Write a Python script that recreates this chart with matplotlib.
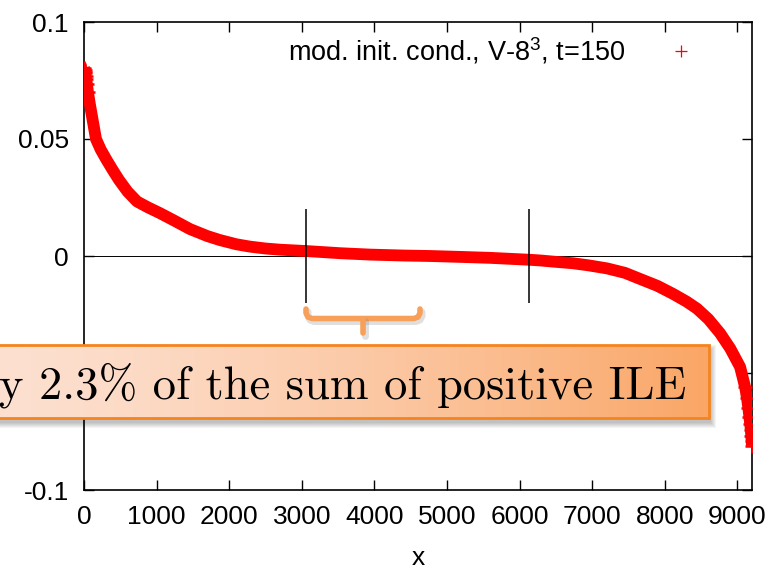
import matplotlib
matplotlib.use("Agg")
import matplotlib.pyplot as plt
import numpy as np
from matplotlib.lines import Line2D
from matplotlib.patches import Rectangle
from matplotlib.ticker import FixedLocator, FuncFormatter

plt.rcParams['font.family'] = ['Liberation Sans', 'DejaVu Sans']
plt.rcParams['mathtext.fontset'] = 'custom'
plt.rcParams['mathtext.rm'] = 'Liberation Sans'
plt.rcParams['mathtext.default'] = 'regular'

# sorted ILE values (index vs value)
idx = [0, 4, 8, 12, 17, 23, 30, 40, 55, 80, 117, 165, 230, 312, 400, 482,
       600, 730, 880, 1047, 1250, 1460, 1700, 1873, 2100, 2287, 2500, 2700,
       3070, 3526, 3940, 4400, 4766, 5200, 5600, 6130, 6281, 6500, 6735,
       6950, 7204, 7450, 7658, 7900, 8113, 8300, 8443, 8600, 8760, 8900,
       9036, 9105, 9130, 9150, 9165, 9176, 9184, 9190, 9195, 9199]
ile = [0.0805, 0.0800, 0.0795, 0.0788, 0.0780, 0.0770, 0.0757, 0.0735,
       0.0700, 0.0650, 0.0585, 0.0500, 0.0455, 0.0410, 0.0365, 0.0325,
       0.0275, 0.0233, 0.0208, 0.0183, 0.0150, 0.0115, 0.0085, 0.0068,
       0.0050, 0.0040, 0.0032, 0.0027, 0.0021, 0.0012, 0.0006, 0.0002,
       0.0000, -0.0004, -0.0008, -0.0016, -0.0019, -0.0025, -0.0031,
       -0.0040, -0.0053, -0.0072, -0.0098, -0.0128, -0.0162, -0.0195,
       -0.0225, -0.0270, -0.0330, -0.0395, -0.0474, -0.0560, -0.0605,
       -0.0650, -0.0690, -0.0720, -0.0745, -0.0770, -0.0790, -0.0810]

# region boundaries marked on the plot
bounds = [3060, 6130]

series_label = "mod. init. cond., V-$8^{3}$, t=150"
note = "y 2.3% of the sum of positive ILE"

xticks = list(range(0, 9001, 1000))
yticks = [-0.1, -0.05, 0, 0.05, 0.1]

W, H = 771, 569
fig = plt.figure(figsize=(W / 100, H / 100), dpi=100)
ax = fig.add_axes([84 / W, 1 - 490 / H, (752 - 84) / W, (490 - 22) / H])

ax.axhline(0, color='black', lw=0.7, zorder=1)
ax.plot(idx, ile, color='red', lw=8.5, solid_capstyle='butt', zorder=3)
# the extreme values are sparse, so the single '+' marks show at both ends
ends = slice(None, 9), slice(-9, None)
for sl in ends:
    ax.plot(idx[sl], ile[sl], ls='none', marker='+', ms=9.5, mew=1.8,
            color='red', zorder=3)
ax.vlines(bounds, -0.02, 0.02, color='black', lw=1.1, zorder=4)

ax.set_xlim(0, 9200)
ax.set_ylim(-0.1, 0.1)
ax.xaxis.set_major_locator(FixedLocator(xticks))
ax.yaxis.set_major_locator(FixedLocator(yticks))
ax.yaxis.set_major_formatter(FuncFormatter(lambda v, p: '%g' % v))
ax.tick_params(direction='in', length=7, width=1.0, labelsize=19,
               top=True, right=True, pad=11)
for s in ax.spines.values():
    s.set_linewidth(1.2)

ax.set_xlabel('x', fontsize=19)
ax.xaxis.label.set_va('center')
ax.xaxis.set_label_coords(0.5, (490 - 558) / 468)

key = Line2D([], [], ls='none', marker='+', ms=9, mew=0.9, color='red')
ax.legend([key], [series_label], loc='upper right', frameon=False,
          markerfirst=False, fontsize=19.5, handlelength=2.0,
          handletextpad=1.05, borderaxespad=0.3, borderpad=0.2,
          bbox_to_anchor=(0.954, 1.0))

# overlay in pixel coordinates for the callout box and brace
ov = fig.add_axes([0, 0, 1, 1], zorder=10)
ov.patch.set_alpha(0)
ov.axis('off')

# brace under the first region
bx = [306, 306, 308, 312, 414, 418, 420, 420]
by = [309, 313, 317, 318.5, 318.5, 317, 313, 309]
ov.plot(np.array(bx) + 2, np.array(by) + 3, color='gray', lw=5, alpha=0.25,
        solid_capstyle='round', solid_joinstyle='round')
ov.plot(bx, by, color='#f8a05a', lw=4, solid_capstyle='round',
        solid_joinstyle='round')
ov.plot([365, 365], [321, 336], color='gray', lw=5, alpha=0.25,
        solid_capstyle='round')
ov.plot([363, 363], [318.5, 333], color='#f8a05a', lw=4,
        solid_capstyle='round')

# callout box with soft shadow and gradient fill
x0, x1, y0, y1 = -10, 709, 345, 418
for i in range(6):
    ov.add_patch(Rectangle((x0 + 2 - i, y0 + 5 - i), (x1 - x0) + 2 * i,
                           (y1 - y0) + 2 * i, color='black', alpha=0.045,
                           lw=0))
c0 = np.array([253, 224, 208]) / 255
c1 = np.array([250, 166, 102]) / 255
t = np.linspace(0, 1, 256)[None, :, None]
grad = c0 + (c1 - c0) * t ** 1.4
ov.imshow(grad, extent=(x0, x1, y1, y0), aspect='auto', zorder=2)
ov.add_patch(Rectangle((x0, y0), x1 - x0, y1 - y0, fill=False,
                       edgecolor='#f5841f', lw=2, zorder=3))
ov.text(686, 398, note, fontfamily='cmr10', fontsize=33.5, ha='right',
        va='baseline', zorder=4)

ov.set_xlim(0, W)
ov.set_ylim(H, 0)

fig.savefig('out.png', dpi=100)
